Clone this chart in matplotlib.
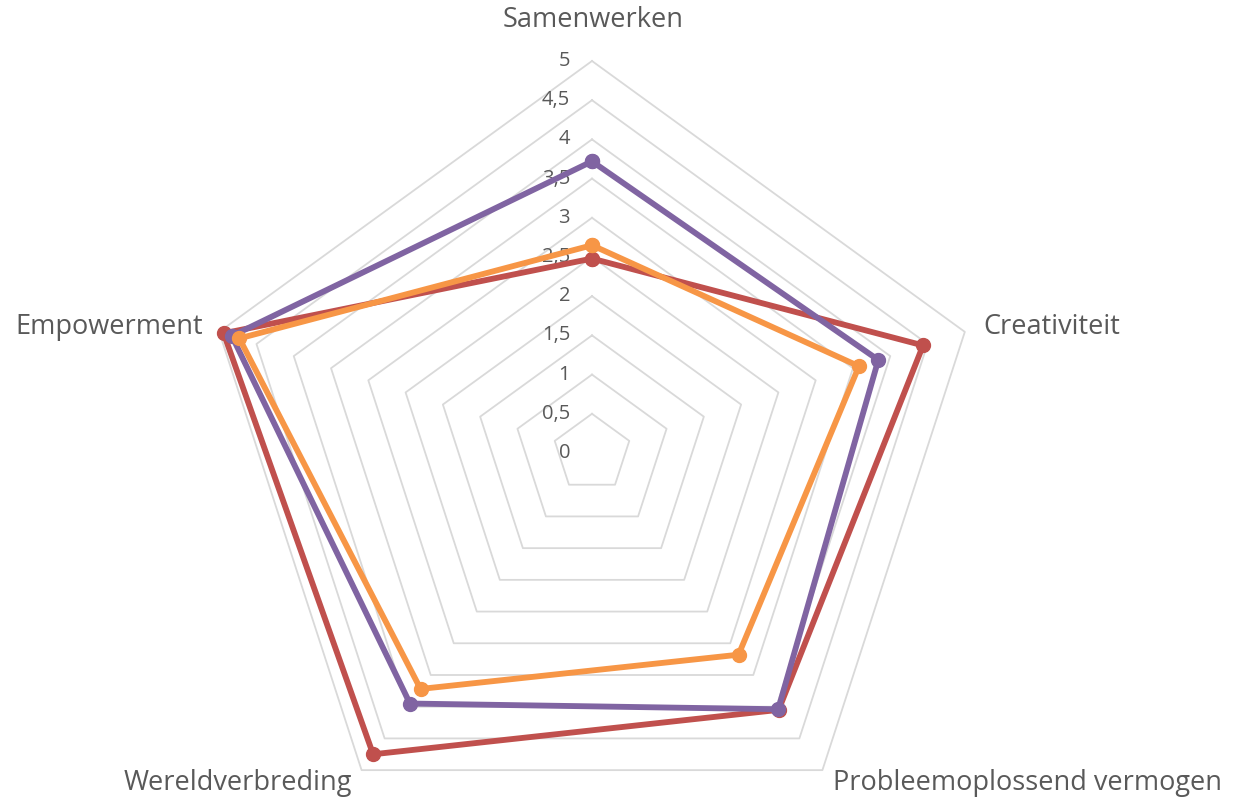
import numpy as np
import matplotlib.pyplot as plt

# categories, clockwise from the top
categories = ["Samenwerken", "Creativiteit", "Probleemoplossend vermogen",
              "Wereldverbreding", "Empowerment"]
ring_values = [0.5, 1, 1.5, 2, 2.5, 3, 3.5, 4, 4.5, 5]
tick_labels = ["0", "0,5", "1", "1,5", "2", "2,5", "3", "3,5", "4", "4,5", "5"]

red_vals = [2.48, 4.44, 4.05, 4.75, 4.94]
purple_vals = [3.72, 3.84, 4.04, 3.95, 4.83]
orange_vals = [2.65, 3.58, 3.18, 3.72, 4.73]

angles = np.pi / 2 - np.arange(5) * 2 * np.pi / 5

def to_xy(vals):
    v = np.append(vals, vals[0])
    a = np.append(angles, angles[0])
    return v * np.cos(a), v * np.sin(a)

fig = plt.figure(figsize=(12.35, 8.01), dpi=100)
ax = fig.add_axes([0, 0, 1, 1])
scale = 78.4  # px per unit
ax.set_xlim(-592 / scale, (1235 - 592) / scale)
ax.set_ylim(-(801 - 453) / scale, 453 / scale)
ax.axis("off")

# pentagon grid
for r in ring_values:
    gx, gy = to_xy([r] * 5)
    ax.plot(gx, gy, color="#D9D9D9", lw=1.3, zorder=1)

# tick labels on the top axis
for i, lab in enumerate(tick_labels):
    ax.text(-0.28, i * 0.5, lab, ha="right", va="center",
            fontsize=14.5, color="#595959", family="Open Sans", zorder=2)

series = [(red_vals, "#C0504D"), (purple_vals, "#8064A2"), (orange_vals, "#F79646")]
for vals, col in series:
    sx, sy = to_xy(vals)
    ax.plot(sx, sy, color=col, lw=4.2, marker="o", markersize=10,
            solid_joinstyle="round", zorder=3)

# category labels
lab_kw = dict(fontsize=19.5, color="#595959", family="Open Sans", va="center")
ax.text(0.01, 5.52, categories[0], ha="center", **lab_kw)
ax.text(4.99, 1.61, categories[1], ha="left", **lab_kw)
ax.text(3.07, -4.21, categories[2], ha="left", **lab_kw)
ax.text(-3.06, -4.21, categories[3], ha="right", **lab_kw)
ax.text(-4.96, 1.61, categories[4], ha="right", **lab_kw)

fig.savefig("out.png", dpi=100)
